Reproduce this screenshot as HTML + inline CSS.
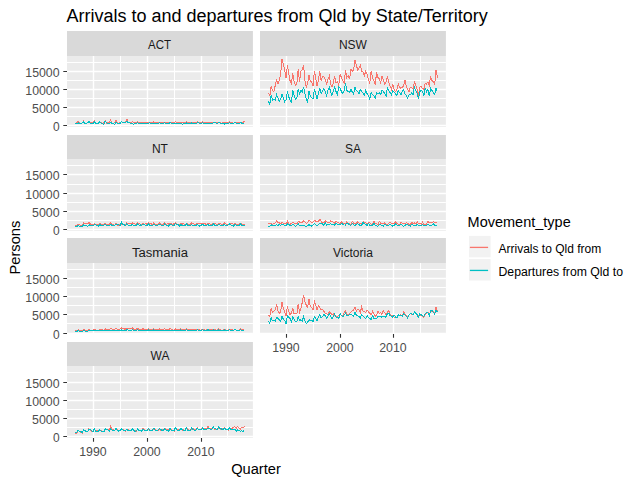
<!DOCTYPE html><html><head><meta charset="utf-8"><style>html,body{margin:0;padding:0;background:#fff;overflow:hidden}svg{display:block}text{font-family:"Liberation Sans",sans-serif}</style></head><body>
<svg width="638" height="484" viewBox="0 0 638 484">
<rect width="638" height="484" fill="#fff"/>
<text x="66.5" y="22" font-size="18" fill="#000">Arrivals to and departures from Qld by State/Territory</text>
<rect x="67.0" y="31" width="185.90" height="25" fill="#D9D9D9"/>
<text x="159.60" y="49.1" font-size="12" fill="#1A1A1A" text-anchor="middle" textLength="23.0" lengthAdjust="spacingAndGlyphs">ACT</text>
<rect x="67.0" y="56" width="185.90" height="71" fill="#EBEBEB"/>
<path d="M67.0 62.5H252.90M67.0 80.5H252.90M67.0 98.5H252.90M67.0 116.5H252.90M120.5 56V127M174.5 56V127M227.5 56V127" stroke="#fff" stroke-width="1.0" fill="none"/>
<path d="M67.0 71.5H252.90M67.0 89.5H252.90M67.0 107.5H252.90M67.0 125.5H252.90M93.5 56V127M147.5 56V127M201.5 56V127" stroke="#fff" stroke-width="1.4" fill="none"/>
<polyline points="75.45,123.37 76.80,122.91 78.15,121.09 79.50,123.37 80.86,123.37 82.21,122.91 83.56,121.09 84.91,122.91 86.26,123.37 87.61,122.45 88.97,121.09 90.32,122.45 91.67,122.45 93.02,122.45 94.37,121.09 95.72,122.91 97.07,123.37 98.43,122.91 99.78,121.55 101.13,122.91 102.48,123.37 103.83,122.91 105.18,120.64 106.53,123.37 107.89,122.91 109.24,122.45 110.59,120.18 111.94,123.37 113.29,123.37 114.64,122.45 116.00,120.64 117.35,122.45 118.70,123.37 120.05,122.45 121.40,121.55 122.75,122.45 124.10,122.45 125.46,122.00 126.81,119.09 128.16,122.00 129.51,122.45 130.86,122.80 132.21,121.77 133.57,122.34 134.92,122.70 136.27,123.10 137.62,121.69 138.97,122.56 140.32,122.47 141.67,123.04 143.03,121.99 144.38,122.19 145.73,122.31 147.08,123.03 148.43,122.17 149.78,122.46 151.14,122.45 152.49,122.71 153.84,121.81 155.19,122.65 156.54,122.47 157.89,122.49 159.24,121.96 160.60,122.74 161.95,122.75 163.30,122.56 164.65,122.23 166.00,122.44 167.35,122.80 168.70,122.74 170.06,121.90 171.41,122.41 172.76,122.25 174.11,122.61 175.46,121.55 176.81,122.43 178.17,122.67 179.52,122.61 180.87,122.44 182.22,122.40 183.57,122.52 184.92,122.96 186.27,121.74 187.63,122.53 188.98,123.11 190.33,122.76 191.68,122.07 193.03,122.55 194.38,122.63 195.74,122.47 197.09,121.86 198.44,122.47 199.79,122.54 201.14,123.16 202.49,121.64 203.84,122.71 205.20,122.56 206.55,123.03 207.90,122.14 209.25,122.59 210.60,122.27 211.95,122.67 213.31,122.09 214.66,122.59 216.01,122.95 217.36,122.85 218.71,122.11 220.06,122.40 221.41,123.02 222.77,122.94 224.12,122.19 225.47,122.74 226.82,122.59 228.17,122.86 229.52,121.90 230.87,122.35 232.23,122.52 233.58,123.21 234.93,121.94 236.28,123.01 237.63,122.81 238.98,122.52 240.34,122.12 241.69,122.73 243.04,122.79 244.39,121.09" stroke="#F8766D" stroke-width="1.0" fill="none" shape-rendering="crispEdges"/>
<polyline points="75.45,123.82 76.80,123.37 78.15,122.91 79.50,123.37 80.86,123.37 82.21,122.91 83.56,122.00 84.91,123.37 86.26,123.37 87.61,122.91 88.97,121.55 90.32,123.37 91.67,123.82 93.02,123.82 94.37,122.00 95.72,123.37 97.07,123.37 98.43,123.37 99.78,121.55 101.13,122.91 102.48,123.82 103.83,124.27 105.18,121.09 106.53,122.91 107.89,123.37 109.24,123.82 110.59,122.45 111.94,123.37 113.29,123.82 114.64,124.27 116.00,122.00 117.35,123.37 118.70,123.82 120.05,123.82 121.40,121.55 122.75,122.45 124.10,122.91 125.46,122.45 126.81,121.09 128.16,122.45 129.51,122.45 130.86,123.91 132.21,123.21 133.57,124.27 134.92,123.30 136.27,123.57 137.62,122.84 138.97,123.65 140.32,123.70 141.67,123.49 143.03,123.35 144.38,123.29 145.73,123.86 147.08,123.56 148.43,123.14 149.78,122.97 151.14,123.26 152.49,123.71 153.84,123.32 155.19,123.54 156.54,123.51 157.89,123.83 159.24,122.86 160.60,123.16 161.95,123.52 163.30,123.71 164.65,122.76 166.00,123.45 167.35,123.33 168.70,123.70 170.06,122.58 171.41,123.46 172.76,123.76 174.11,123.61 175.46,123.08 176.81,123.61 178.17,123.56 179.52,123.48 180.87,123.43 182.22,124.27 183.57,123.58 184.92,123.68 186.27,122.77 187.63,123.69 188.98,123.38 190.33,123.68 191.68,122.91 193.03,123.43 194.38,123.58 195.74,123.73 197.09,122.83 198.44,122.90 199.79,123.26 201.14,123.41 202.49,122.78 203.84,123.46 205.20,123.34 206.55,123.12 207.90,123.16 209.25,123.15 210.60,123.24 211.95,123.50 213.31,122.69 214.66,123.01 216.01,122.95 217.36,123.25 218.71,122.48 220.06,123.22 221.41,123.24 222.77,123.48 224.12,124.27 225.47,123.38 226.82,123.25 228.17,123.19 229.52,122.84 230.87,123.20 232.23,123.25 233.58,123.48 234.93,122.58 236.28,123.18 237.63,123.62 238.98,123.69 240.34,122.61 241.69,123.08 243.04,123.11 244.39,123.39" stroke="#00BFC4" stroke-width="1.0" fill="none" shape-rendering="crispEdges"/>
<text x="59.6" y="76.90" font-size="12" fill="#4D4D4D" text-anchor="end" textLength="34.3" lengthAdjust="spacingAndGlyphs">15000</text>
<text x="59.6" y="94.90" font-size="12" fill="#4D4D4D" text-anchor="end" textLength="34.3" lengthAdjust="spacingAndGlyphs">10000</text>
<text x="59.6" y="112.90" font-size="12" fill="#4D4D4D" text-anchor="end" textLength="27.6" lengthAdjust="spacingAndGlyphs">5000</text>
<text x="59.6" y="130.90" font-size="12" fill="#4D4D4D" text-anchor="end" textLength="6.67" lengthAdjust="spacingAndGlyphs">0</text>
<path d="M63.3 71.5H67M63.3 89.5H67M63.3 107.5H67M63.3 125.5H67" stroke="#333" stroke-width="1.1" fill="none"/>
<rect x="260.0" y="31" width="185.90" height="25" fill="#D9D9D9"/>
<text x="352.95" y="49.1" font-size="12" fill="#1A1A1A" text-anchor="middle">NSW</text>
<rect x="260.0" y="56" width="185.90" height="71" fill="#EBEBEB"/>
<path d="M260.0 62.5H445.90M260.0 80.5H445.90M260.0 98.5H445.90M260.0 116.5H445.90M313.5 56V127M367.5 56V127M420.5 56V127" stroke="#fff" stroke-width="1.0" fill="none"/>
<path d="M260.0 71.5H445.90M260.0 89.5H445.90M260.0 107.5H445.90M260.0 125.5H445.90M286.5 56V127M340.5 56V127M393.5 56V127" stroke="#fff" stroke-width="1.4" fill="none"/>
<polyline points="268.45,92.81 269.80,96.35 271.15,86.15 272.50,90.45 273.86,91.52 275.21,85.61 276.56,79.17 277.91,84.00 279.26,80.78 280.61,74.33 281.97,59.30 283.32,64.67 284.67,70.04 286.02,78.10 287.37,65.20 288.72,73.26 290.07,80.78 291.43,83.46 292.78,73.26 294.13,81.32 295.48,85.61 296.83,83.46 298.18,69.50 299.53,81.85 300.89,71.11 302.24,70.04 303.59,65.20 304.94,80.78 306.29,87.22 307.64,82.93 309.00,74.87 310.35,81.32 311.70,81.85 313.05,86.15 314.40,71.11 315.75,78.63 317.10,86.15 318.46,79.70 319.81,71.11 321.16,80.78 322.51,76.48 323.86,76.48 325.21,79.70 326.57,84.00 327.92,79.70 329.27,75.95 330.62,84.00 331.97,87.22 333.32,82.93 334.67,75.95 336.03,82.93 337.38,81.85 338.73,85.08 340.08,74.33 341.43,77.56 342.78,80.78 344.14,82.93 345.49,70.04 346.84,77.56 348.19,75.41 349.54,79.17 350.89,69.50 352.24,71.11 353.60,70.57 354.95,60.37 356.30,64.67 357.65,70.04 359.00,68.43 360.35,65.20 361.70,71.11 363.06,72.19 364.41,75.41 365.76,71.11 367.11,74.33 368.46,79.70 369.81,82.93 371.17,71.11 372.52,77.56 373.87,80.78 375.22,85.08 376.57,72.19 377.92,77.56 379.27,78.63 380.63,82.93 381.98,76.48 383.33,79.70 384.68,84.00 386.03,81.85 387.38,76.48 388.74,81.85 390.09,86.15 391.44,89.37 392.79,84.00 394.14,89.37 395.49,91.52 396.84,89.37 398.20,84.00 399.55,87.22 400.90,88.30 402.25,87.22 403.60,86.15 404.95,79.70 406.31,86.15 407.66,89.37 409.01,91.52 410.36,87.22 411.71,87.22 413.06,89.37 414.41,82.39 415.77,85.08 417.12,89.37 418.47,95.82 419.82,87.22 421.17,86.68 422.52,88.30 423.87,89.37 425.23,82.93 426.58,84.00 427.93,81.85 429.28,85.08 430.63,76.48 431.98,80.78 433.34,81.32 434.69,84.00 436.04,70.04 437.39,77.56" stroke="#F8766D" stroke-width="1.0" fill="none" shape-rendering="crispEdges"/>
<polyline points="268.45,101.19 269.80,104.41 271.15,94.74 272.50,100.11 273.86,99.58 275.21,100.11 276.56,94.74 277.91,97.96 279.26,101.19 280.61,99.04 281.97,94.21 283.32,97.96 284.67,101.73 286.02,100.11 287.37,91.52 288.72,96.89 290.07,100.11 291.43,102.26 292.78,90.45 294.13,95.82 295.48,99.04 296.83,97.96 298.18,89.37 299.53,93.67 300.89,90.45 302.24,92.06 303.59,87.22 304.94,93.67 306.29,99.04 307.64,102.26 309.00,91.52 310.35,95.82 311.70,97.96 313.05,99.04 314.40,89.37 315.75,93.67 317.10,99.04 318.46,92.59 319.81,88.30 321.16,93.67 322.51,90.45 323.86,88.30 325.21,91.52 326.57,95.82 327.92,90.45 329.27,87.22 330.62,91.52 331.97,95.28 333.32,90.45 334.67,87.22 336.03,91.52 337.38,94.74 338.73,87.22 340.08,88.30 341.43,91.52 342.78,93.67 344.14,90.45 345.49,83.46 346.84,90.45 348.19,91.52 349.54,92.59 350.89,89.37 352.24,92.06 353.60,94.21 354.95,87.22 356.30,90.45 357.65,91.52 359.00,93.67 360.35,89.37 361.70,91.52 363.06,93.13 364.41,95.28 365.76,90.45 367.11,93.67 368.46,95.82 369.81,99.04 371.17,92.59 372.52,94.74 373.87,95.82 375.22,97.96 376.57,92.59 377.92,93.67 379.27,92.59 380.63,94.74 381.98,90.45 383.33,91.52 384.68,93.67 386.03,96.35 387.38,87.76 388.74,90.45 390.09,92.59 391.44,94.74 392.79,90.45 394.14,92.06 395.49,93.67 396.84,95.82 398.20,90.45 399.55,92.59 400.90,94.74 402.25,91.52 403.60,89.37 404.95,93.67 406.31,95.28 407.66,97.96 409.01,94.74 410.36,94.74 411.71,92.59 413.06,94.74 414.41,87.22 415.77,90.45 417.12,93.67 418.47,99.04 419.82,91.52 421.17,90.45 422.52,91.52 423.87,95.82 425.23,88.30 426.58,91.52 427.93,89.37 429.28,95.82 430.63,88.30 431.98,90.45 433.34,92.59 434.69,94.74 436.04,88.30 437.39,91.52" stroke="#00BFC4" stroke-width="1.0" fill="none" shape-rendering="crispEdges"/>
<rect x="67.0" y="135" width="185.90" height="24" fill="#D9D9D9"/>
<text x="159.95" y="153.1" font-size="12" fill="#1A1A1A" text-anchor="middle">NT</text>
<rect x="67.0" y="159" width="185.90" height="72" fill="#EBEBEB"/>
<path d="M67.0 165.5H252.90M67.0 184.5H252.90M67.0 202.5H252.90M67.0 220.5H252.90M120.5 159V231M174.5 159V231M227.5 159V231" stroke="#fff" stroke-width="1.0" fill="none"/>
<path d="M67.0 174.5H252.90M67.0 193.5H252.90M67.0 211.5H252.90M67.0 229.5H252.90M93.5 159V231M147.5 159V231M201.5 159V231" stroke="#fff" stroke-width="1.4" fill="none"/>
<polyline points="75.45,225.29 76.80,225.14 78.15,224.39 79.50,224.72 80.86,225.41 82.21,225.64 83.56,222.64 84.91,223.36 86.26,223.84 87.61,223.96 88.97,222.51 90.32,224.00 91.67,224.22 93.02,224.96 94.37,223.30 95.72,224.28 97.07,224.85 98.43,225.14 99.78,223.71 101.13,224.22 102.48,224.47 103.83,224.75 105.18,223.15 106.53,224.58 107.89,224.44 109.24,224.60 110.59,223.00 111.94,224.53 113.29,224.69 114.64,225.49 116.00,223.57 117.35,225.13 118.70,225.18 120.05,224.62 121.40,224.28 122.75,224.29 124.10,224.76 125.46,224.90 126.81,222.89 128.16,223.53 129.51,223.34 130.86,224.01 132.21,222.69 133.57,223.68 134.92,224.10 136.27,224.04 137.62,222.84 138.97,223.22 140.32,224.48 141.67,224.48 143.03,222.99 144.38,224.35 145.73,223.33 147.08,225.00 148.43,222.86 149.78,223.92 151.14,223.50 152.49,224.95 153.84,222.50 155.19,224.08 156.54,224.19 157.89,224.58 159.24,222.69 160.60,224.24 161.95,224.16 163.30,224.25 164.65,222.30 166.00,224.65 167.35,223.63 168.70,224.05 170.06,223.06 171.41,223.76 172.76,224.29 174.11,223.82 175.46,222.83 176.81,223.93 178.17,224.21 179.52,224.43 180.87,222.96 182.22,224.15 183.57,223.46 184.92,224.99 186.27,224.09 187.63,223.90 188.98,224.19 190.33,224.24 191.68,222.97 193.03,223.92 194.38,224.03 195.74,224.05 197.09,223.06 198.44,224.00 199.79,223.51 201.14,224.21 202.49,223.25 203.84,223.12 205.20,223.91 206.55,224.59 207.90,223.32 209.25,223.79 210.60,224.45 211.95,224.75 213.31,223.37 214.66,224.07 216.01,223.82 217.36,224.56 218.71,223.43 220.06,223.69 221.41,224.17 222.77,224.14 224.12,222.56 225.47,223.98 226.82,224.24 228.17,224.45 229.52,223.34 230.87,223.71 232.23,223.75 233.58,224.38 234.93,223.06 236.28,224.03 237.63,224.48 238.98,224.71 240.34,223.12 241.69,224.23 243.04,224.37 244.39,224.98" stroke="#F8766D" stroke-width="1.0" fill="none" shape-rendering="crispEdges"/>
<polyline points="75.45,226.68 76.80,226.78 78.15,225.56 79.50,226.29 80.86,226.39 82.21,226.80 83.56,224.44 84.91,225.80 86.26,225.77 87.61,226.26 88.97,224.76 90.32,225.56 91.67,225.71 93.02,225.89 94.37,224.34 95.72,224.77 97.07,225.50 98.43,226.50 99.78,224.34 101.13,225.56 102.48,225.76 103.83,225.35 105.18,224.27 106.53,225.79 107.89,225.28 109.24,225.67 110.59,224.42 111.94,225.32 113.29,225.48 114.64,225.51 116.00,224.10 117.35,224.92 118.70,224.60 120.05,225.69 121.40,222.27 122.75,224.95 124.10,224.81 125.46,225.66 126.81,223.45 128.16,225.37 129.51,225.58 130.86,225.52 132.21,224.28 133.57,225.22 134.92,225.17 136.27,225.33 137.62,224.02 138.97,225.15 140.32,224.91 141.67,225.46 143.03,224.15 144.38,224.68 145.73,225.66 147.08,225.55 148.43,223.88 149.78,225.10 151.14,225.57 152.49,225.51 153.84,224.29 155.19,225.31 156.54,225.74 157.89,225.21 159.24,224.31 160.60,224.75 161.95,225.29 163.30,225.75 164.65,223.93 166.00,225.06 167.35,225.39 168.70,226.13 170.06,224.14 171.41,224.87 172.76,225.29 174.11,225.37 175.46,223.69 176.81,225.05 178.17,224.82 179.52,226.21 180.87,224.28 182.22,226.03 183.57,225.22 184.92,225.70 186.27,223.66 187.63,225.34 188.98,226.18 190.33,225.33 191.68,224.67 193.03,225.65 194.38,225.58 195.74,225.55 197.09,224.41 198.44,225.18 199.79,226.15 201.14,225.20 202.49,224.27 203.84,225.21 205.20,225.35 206.55,225.72 207.90,224.19 209.25,225.56 210.60,225.59 211.95,225.65 213.31,223.93 214.66,225.31 216.01,225.53 217.36,225.69 218.71,224.09 220.06,225.21 221.41,225.65 222.77,225.97 224.12,223.92 225.47,225.19 226.82,225.57 228.17,224.67 229.52,224.01 230.87,225.02 232.23,225.54 233.58,226.16 234.93,223.93 236.28,225.33 237.63,225.58 238.98,225.50 240.34,223.98 241.69,225.24 243.04,225.60 244.39,225.15" stroke="#00BFC4" stroke-width="1.0" fill="none" shape-rendering="crispEdges"/>
<text x="59.6" y="179.90" font-size="12" fill="#4D4D4D" text-anchor="end" textLength="34.3" lengthAdjust="spacingAndGlyphs">15000</text>
<text x="59.6" y="198.90" font-size="12" fill="#4D4D4D" text-anchor="end" textLength="34.3" lengthAdjust="spacingAndGlyphs">10000</text>
<text x="59.6" y="216.90" font-size="12" fill="#4D4D4D" text-anchor="end" textLength="27.6" lengthAdjust="spacingAndGlyphs">5000</text>
<text x="59.6" y="234.90" font-size="12" fill="#4D4D4D" text-anchor="end" textLength="6.67" lengthAdjust="spacingAndGlyphs">0</text>
<path d="M63.3 174.5H67M63.3 193.5H67M63.3 211.5H67M63.3 229.5H67" stroke="#333" stroke-width="1.1" fill="none"/>
<rect x="260.0" y="135" width="185.90" height="24" fill="#D9D9D9"/>
<text x="352.95" y="153.1" font-size="12" fill="#1A1A1A" text-anchor="middle">SA</text>
<rect x="260.0" y="159" width="185.90" height="72" fill="#EBEBEB"/>
<path d="M260.0 165.5H445.90M260.0 184.5H445.90M260.0 202.5H445.90M260.0 220.5H445.90M313.5 159V231M367.5 159V231M420.5 159V231" stroke="#fff" stroke-width="1.0" fill="none"/>
<path d="M260.0 174.5H445.90M260.0 193.5H445.90M260.0 211.5H445.90M260.0 229.5H445.90M286.5 159V231M340.5 159V231M393.5 159V231" stroke="#fff" stroke-width="1.4" fill="none"/>
<polyline points="268.45,223.82 269.80,223.82 271.15,223.36 272.50,224.27 273.86,223.82 275.21,222.91 276.56,221.09 277.91,222.46 279.26,222.91 280.61,223.82 281.97,222.46 283.32,223.36 284.67,223.82 286.02,223.36 287.37,221.09 288.72,223.82 290.07,224.27 291.43,223.36 292.78,222.00 294.13,223.36 295.48,223.82 296.83,223.82 298.18,221.55 299.53,222.00 300.89,222.00 302.24,222.46 303.59,220.64 304.94,222.00 306.29,223.36 307.64,222.46 309.00,220.18 310.35,221.55 311.70,222.46 313.05,222.00 314.40,220.18 315.75,221.09 317.10,221.55 318.46,221.09 319.81,219.27 321.16,221.55 322.51,222.91 323.86,222.63 325.21,220.63 326.57,221.73 327.92,222.32 329.27,222.71 330.62,221.06 331.97,221.81 333.32,222.21 334.67,223.23 336.03,221.48 337.38,222.45 338.73,223.04 340.08,224.07 341.43,221.89 342.78,222.73 344.14,223.59 345.49,224.01 346.84,221.75 348.19,223.21 349.54,223.59 350.89,224.69 352.24,221.17 353.60,223.15 354.95,223.97 356.30,223.56 357.65,221.79 359.00,223.26 360.35,223.24 361.70,223.08 363.06,221.72 364.41,222.66 365.76,222.83 367.11,224.43 368.46,222.19 369.81,223.02 371.17,224.42 372.52,224.17 373.87,221.50 375.22,222.95 376.57,223.53 377.92,224.86 379.27,221.11 380.63,223.19 381.98,223.49 383.33,223.93 384.68,222.77 386.03,224.00 387.38,224.30 388.74,223.36 390.09,222.42 391.44,223.52 392.79,223.92 394.14,223.90 395.49,221.88 396.84,223.32 398.20,224.32 399.55,225.39 400.90,222.02 402.25,223.32 403.60,223.32 404.95,224.17 406.31,222.33 407.66,223.26 409.01,224.43 410.36,224.55 411.71,222.49 413.06,223.31 414.41,222.97 415.77,223.82 417.12,221.62 418.47,223.29 419.82,223.62 421.17,224.19 422.52,222.03 423.87,224.19 425.23,224.04 426.58,224.35 427.93,221.41 429.28,222.78 430.63,222.93 431.98,223.04 433.34,221.70 434.69,222.45 436.04,222.43 437.39,223.50" stroke="#F8766D" stroke-width="1.0" fill="none" shape-rendering="crispEdges"/>
<polyline points="268.45,226.09 269.80,226.55 271.15,224.73 272.50,225.64 273.86,225.18 275.21,226.09 276.56,224.73 277.91,225.18 279.26,224.73 280.61,225.64 281.97,224.27 283.32,224.73 284.67,225.64 286.02,225.64 287.37,223.82 288.72,224.73 290.07,225.18 291.43,225.64 292.78,224.27 294.13,225.18 295.48,226.09 296.83,225.64 298.18,223.36 299.53,225.64 300.89,225.64 302.24,225.64 303.59,225.64 304.94,226.09 306.29,226.55 307.64,225.64 309.00,224.73 310.35,225.64 311.70,226.09 313.05,225.18 314.40,223.82 315.75,224.73 317.10,225.64 318.46,224.73 319.81,223.36 321.16,223.82 322.51,223.82 323.86,225.44 325.21,222.83 326.57,225.28 327.92,224.34 329.27,224.90 330.62,223.47 331.97,224.56 333.32,224.85 334.67,225.09 336.03,222.93 337.38,224.72 338.73,224.36 340.08,224.68 341.43,223.39 342.78,224.23 344.14,224.99 345.49,225.06 346.84,223.15 348.19,223.79 349.54,224.86 350.89,225.19 352.24,223.39 353.60,224.64 354.95,225.32 356.30,224.53 357.65,223.71 359.00,224.88 360.35,225.27 361.70,225.06 363.06,222.49 364.41,223.64 365.76,224.74 367.11,225.27 368.46,223.67 369.81,225.21 371.17,224.92 372.52,225.52 373.87,222.99 375.22,225.02 376.57,225.65 377.92,226.25 379.27,224.49 380.63,224.79 381.98,225.24 383.33,226.08 384.68,224.48 386.03,224.98 387.38,225.55 388.74,225.62 390.09,223.97 391.44,225.41 392.79,226.10 394.14,225.70 395.49,223.97 396.84,225.10 398.20,225.16 399.55,225.45 400.90,224.23 402.25,224.99 403.60,226.35 404.95,225.58 406.31,224.10 407.66,224.88 409.01,225.22 410.36,226.22 411.71,224.18 413.06,224.88 414.41,225.84 415.77,225.89 417.12,224.40 418.47,225.07 419.82,225.47 421.17,226.12 422.52,224.56 423.87,225.96 425.23,225.12 426.58,225.84 427.93,224.14 429.28,225.20 430.63,225.63 431.98,225.28 433.34,223.51 434.69,225.68 436.04,225.16 437.39,225.35" stroke="#00BFC4" stroke-width="1.0" fill="none" shape-rendering="crispEdges"/>
<rect x="67.0" y="238" width="185.90" height="25" fill="#D9D9D9"/>
<text x="159.95" y="257.0" font-size="12" fill="#1A1A1A" text-anchor="middle" textLength="55.9" lengthAdjust="spacingAndGlyphs">Tasmania</text>
<rect x="67.0" y="263" width="185.90" height="71" fill="#EBEBEB"/>
<path d="M67.0 269.5H252.90M67.0 287.5H252.90M67.0 305.5H252.90M67.0 323.5H252.90M120.5 263V334M174.5 263V334M227.5 263V334" stroke="#fff" stroke-width="1.0" fill="none"/>
<path d="M67.0 278.5H252.90M67.0 296.5H252.90M67.0 314.5H252.90M67.0 333.5H252.90M93.5 263V334M147.5 263V334M201.5 263V334" stroke="#fff" stroke-width="1.4" fill="none"/>
<polyline points="75.45,330.67 76.80,330.66 78.15,329.71 79.50,330.39 80.86,330.67 82.21,330.68 83.56,329.35 84.91,330.14 86.26,330.19 87.61,330.48 88.97,329.36 90.32,330.07 91.67,330.57 93.02,330.25 94.37,329.22 95.72,329.89 97.07,330.46 98.43,330.60 99.78,329.36 101.13,329.95 102.48,329.97 103.83,330.11 105.18,328.87 106.53,329.68 107.89,329.61 109.24,329.67 110.59,328.72 111.94,328.89 113.29,329.21 114.64,329.17 116.00,328.35 117.35,329.02 118.70,329.10 120.05,329.18 121.40,327.95 122.75,328.67 124.10,328.94 125.46,329.16 126.81,327.98 128.16,328.31 129.51,328.83 130.86,328.89 132.21,327.89 133.57,329.03 134.92,329.03 136.27,329.06 137.62,328.71 138.97,329.19 140.32,329.45 141.67,329.84 143.03,328.65 144.38,329.45 145.73,329.91 147.08,329.66 148.43,328.65 149.78,329.29 151.14,329.41 152.49,329.77 153.84,328.77 155.19,329.73 156.54,329.58 157.89,329.98 159.24,328.90 160.60,329.75 161.95,329.90 163.30,329.99 164.65,328.61 166.00,329.92 167.35,330.01 168.70,329.88 170.06,328.61 171.41,329.46 172.76,330.12 174.11,330.41 175.46,328.83 176.81,329.73 178.17,330.00 179.52,329.79 180.87,328.72 182.22,329.59 183.57,329.78 184.92,329.92 186.27,328.66 187.63,329.54 188.98,329.76 190.33,329.92 191.68,329.26 193.03,329.44 194.38,329.70 195.74,329.95 197.09,329.36 198.44,329.82 199.79,329.76 201.14,330.41 202.49,329.07 203.84,329.55 205.20,330.19 206.55,329.82 207.90,328.97 209.25,329.80 210.60,329.92 211.95,330.04 213.31,329.09 214.66,329.60 216.01,330.14 217.36,330.27 218.71,328.96 220.06,329.84 221.41,330.22 222.77,330.05 224.12,328.92 225.47,329.95 226.82,330.30 228.17,330.23 229.52,329.16 230.87,329.87 232.23,329.74 233.58,330.34 234.93,328.86 236.28,330.00 237.63,330.10 238.98,329.99 240.34,328.83 241.69,329.56 243.04,329.84 244.39,330.03" stroke="#F8766D" stroke-width="1.0" fill="none" shape-rendering="crispEdges"/>
<polyline points="75.45,331.49 76.80,331.23 78.15,330.75 79.50,331.12 80.86,331.26 82.21,331.36 83.56,330.62 84.91,331.10 86.26,331.28 87.61,331.35 88.97,330.70 90.32,330.89 91.67,330.94 93.02,330.85 94.37,330.35 95.72,330.78 97.07,330.82 98.43,331.00 99.78,330.61 101.13,330.57 102.48,330.89 103.83,330.87 105.18,330.28 106.53,330.21 107.89,330.57 109.24,330.76 110.59,330.33 111.94,330.43 113.29,330.80 114.64,330.57 116.00,330.31 117.35,330.50 118.70,330.45 120.05,330.79 121.40,329.99 122.75,330.38 124.10,330.36 125.46,330.66 126.81,329.82 128.16,330.01 129.51,330.65 130.86,330.66 132.21,329.82 133.57,330.43 134.92,330.66 136.27,330.35 137.62,329.78 138.97,330.19 140.32,330.32 141.67,330.49 143.03,330.08 144.38,330.75 145.73,330.44 147.08,330.79 148.43,329.99 149.78,330.37 151.14,330.74 152.49,330.71 153.84,329.76 155.19,330.34 156.54,330.83 157.89,330.71 159.24,330.03 160.60,330.35 161.95,330.44 163.30,330.65 164.65,330.03 166.00,330.27 167.35,330.74 168.70,330.44 170.06,329.91 171.41,330.45 172.76,330.57 174.11,330.54 175.46,330.15 176.81,330.69 178.17,330.40 179.52,330.32 180.87,329.92 182.22,330.30 183.57,330.42 184.92,330.66 186.27,329.80 187.63,330.15 188.98,330.38 190.33,330.34 191.68,329.99 193.03,330.20 194.38,330.47 195.74,330.52 197.09,329.76 198.44,330.20 199.79,330.22 201.14,330.35 202.49,329.99 203.84,330.04 205.20,330.60 206.55,330.48 207.90,329.78 209.25,330.27 210.60,330.31 211.95,330.48 213.31,329.99 214.66,330.15 216.01,330.41 217.36,330.64 218.71,329.85 220.06,330.29 221.41,330.36 222.77,330.61 224.12,329.85 225.47,330.31 226.82,330.15 228.17,330.53 229.52,329.62 230.87,330.23 232.23,330.15 233.58,330.05 234.93,329.80 236.28,330.13 237.63,330.39 238.98,330.44 240.34,329.76 241.69,330.07 243.04,330.04 244.39,330.13" stroke="#00BFC4" stroke-width="1.0" fill="none" shape-rendering="crispEdges"/>
<text x="59.6" y="283.90" font-size="12" fill="#4D4D4D" text-anchor="end" textLength="34.3" lengthAdjust="spacingAndGlyphs">15000</text>
<text x="59.6" y="301.90" font-size="12" fill="#4D4D4D" text-anchor="end" textLength="34.3" lengthAdjust="spacingAndGlyphs">10000</text>
<text x="59.6" y="319.90" font-size="12" fill="#4D4D4D" text-anchor="end" textLength="27.6" lengthAdjust="spacingAndGlyphs">5000</text>
<text x="59.6" y="338.90" font-size="12" fill="#4D4D4D" text-anchor="end" textLength="6.67" lengthAdjust="spacingAndGlyphs">0</text>
<path d="M63.3 278.5H67M63.3 296.5H67M63.3 314.5H67M63.3 333.5H67" stroke="#333" stroke-width="1.1" fill="none"/>
<rect x="260.0" y="238" width="185.90" height="25" fill="#D9D9D9"/>
<text x="352.95" y="257.0" font-size="12" fill="#1A1A1A" text-anchor="middle">Victoria</text>
<rect x="260.0" y="263" width="185.90" height="71" fill="#EBEBEB"/>
<path d="M260.0 269.5H445.90M260.0 287.5H445.90M260.0 305.5H445.90M260.0 323.5H445.90M313.5 263V334M367.5 263V334M420.5 263V334" stroke="#fff" stroke-width="1.0" fill="none"/>
<path d="M260.0 278.5H445.90M260.0 296.5H445.90M260.0 314.5H445.90M260.0 333.5H445.90M286.5 263V334M340.5 263V334M393.5 263V334" stroke="#fff" stroke-width="1.4" fill="none"/>
<polyline points="268.45,314.79 269.80,316.45 271.15,308.18 272.50,312.73 273.86,311.49 275.21,309.83 276.56,304.46 277.91,310.66 279.26,313.14 280.61,311.90 281.97,302.40 283.32,308.18 284.67,312.31 286.02,315.62 287.37,306.53 288.72,311.49 290.07,314.79 291.43,313.14 292.78,308.18 294.13,313.97 295.48,313.97 296.83,313.97 298.18,304.46 299.53,312.31 300.89,309.01 302.24,302.40 303.59,295.37 304.94,301.57 306.29,305.29 307.64,307.36 309.00,299.50 310.35,306.53 311.70,307.77 313.05,309.42 314.40,301.57 315.75,305.29 317.10,309.83 318.46,305.70 319.81,307.36 321.16,309.83 322.51,309.42 323.86,311.49 325.21,313.14 326.57,313.97 327.92,314.38 329.27,311.49 330.62,313.14 331.97,314.79 333.32,313.97 334.67,315.21 336.03,316.03 337.38,316.45 338.73,315.62 340.08,314.79 341.43,315.21 342.78,315.21 344.14,313.14 345.49,310.66 346.84,313.97 348.19,314.79 349.54,313.55 350.89,311.90 352.24,311.07 353.60,309.83 354.95,307.36 356.30,311.07 357.65,309.42 359.00,309.83 360.35,312.31 361.70,306.53 363.06,311.07 364.41,311.90 365.76,312.31 367.11,309.83 368.46,311.90 369.81,313.55 371.17,314.79 372.52,311.49 373.87,313.97 375.22,316.45 376.57,314.79 377.92,311.49 379.27,313.55 380.63,312.73 381.98,314.38 383.33,310.66 384.68,312.73 386.03,314.79 387.38,312.73 388.74,310.25 390.09,314.38 391.44,315.21 392.79,315.21 394.14,317.27 395.49,316.86 396.84,317.27 398.20,315.62 399.55,315.62 400.90,314.79 402.25,316.03 403.60,311.90 404.95,313.97 406.31,315.62 407.66,317.27 409.01,314.79 410.36,313.55 411.71,314.38 413.06,314.79 414.41,312.31 415.77,313.14 417.12,313.97 418.47,316.03 419.82,314.38 421.17,315.62 422.52,316.45 423.87,317.27 425.23,313.97 426.58,313.14 427.93,312.31 429.28,315.21 430.63,311.07 431.98,311.07 433.34,311.90 434.69,313.14 436.04,307.36 437.39,310.66" stroke="#F8766D" stroke-width="1.0" fill="none" shape-rendering="crispEdges"/>
<polyline points="268.45,320.99 269.80,323.06 271.15,317.27 272.50,320.99 273.86,320.58 275.21,320.99 276.56,317.27 277.91,318.51 279.26,319.75 280.61,320.99 281.97,316.45 283.32,318.93 284.67,320.58 286.02,323.47 287.37,315.62 288.72,317.27 290.07,318.51 291.43,321.82 292.78,317.27 294.13,319.34 295.48,321.41 296.83,321.41 298.18,316.45 299.53,320.58 300.89,319.75 302.24,321.41 303.59,316.45 304.94,320.99 306.29,323.89 307.64,322.23 309.00,319.75 310.35,320.58 311.70,320.17 313.05,322.23 314.40,316.86 315.75,318.51 317.10,320.58 318.46,317.27 319.81,314.79 321.16,318.10 322.51,316.45 323.86,314.38 325.21,315.62 326.57,318.51 327.92,316.45 329.27,313.97 330.62,316.45 331.97,318.51 333.32,316.45 334.67,313.97 336.03,317.27 337.38,317.69 338.73,318.51 340.08,313.55 341.43,315.62 342.78,316.86 344.14,314.79 345.49,313.14 346.84,315.21 348.19,316.03 349.54,314.79 350.89,313.97 352.24,315.21 353.60,316.45 354.95,312.31 356.30,315.21 357.65,315.62 359.00,316.45 360.35,317.69 361.70,314.79 363.06,316.03 364.41,317.69 365.76,318.51 367.11,315.62 368.46,317.27 369.81,318.51 371.17,319.34 372.52,315.62 373.87,318.10 375.22,318.51 376.57,318.51 377.92,316.03 379.27,316.45 380.63,316.45 381.98,317.27 383.33,316.03 384.68,316.45 386.03,317.27 387.38,313.55 388.74,313.14 390.09,315.62 391.44,316.03 392.79,317.27 394.14,315.21 395.49,316.86 396.84,318.10 398.20,314.79 399.55,315.62 400.90,315.21 402.25,316.45 403.60,313.55 404.95,314.79 406.31,316.45 407.66,318.10 409.01,314.79 410.36,313.97 411.71,313.55 413.06,314.79 414.41,311.90 415.77,313.14 417.12,314.79 418.47,317.27 419.82,313.97 421.17,314.79 422.52,315.62 423.87,316.45 425.23,313.55 426.58,312.73 427.93,312.73 429.28,316.03 430.63,310.66 431.98,309.83 433.34,312.31 434.69,313.97 436.04,309.83 437.39,312.31" stroke="#00BFC4" stroke-width="1.0" fill="none" shape-rendering="crispEdges"/>
<text x="285.90" y="352.10" font-size="12" fill="#4D4D4D" text-anchor="middle" textLength="27.4" lengthAdjust="spacingAndGlyphs">1990</text>
<text x="339.90" y="352.10" font-size="12" fill="#4D4D4D" text-anchor="middle" textLength="27.4" lengthAdjust="spacingAndGlyphs">2000</text>
<text x="392.90" y="352.10" font-size="12" fill="#4D4D4D" text-anchor="middle" textLength="27.4" lengthAdjust="spacingAndGlyphs">2010</text>
<path d="M286.5 334V337.70M340.5 334V337.70M393.5 334V337.70" stroke="#333" stroke-width="1.1" fill="none"/>
<rect x="67.0" y="342" width="185.90" height="24" fill="#D9D9D9"/>
<text x="159.95" y="360.1" font-size="12" fill="#1A1A1A" text-anchor="middle">WA</text>
<rect x="67.0" y="366" width="185.90" height="72" fill="#EBEBEB"/>
<path d="M67.0 372.5H252.90M67.0 391.5H252.90M67.0 409.5H252.90M67.0 427.5H252.90M120.5 366V438M174.5 366V438M227.5 366V438" stroke="#fff" stroke-width="1.0" fill="none"/>
<path d="M67.0 382.5H252.90M67.0 400.5H252.90M67.0 418.5H252.90M67.0 436.5H252.90M93.5 366V438M147.5 366V438M201.5 366V438" stroke="#fff" stroke-width="1.4" fill="none"/>
<polyline points="75.45,433.14 76.80,433.02 78.15,430.36 79.50,431.72 80.86,432.28 82.21,433.09 83.56,429.84 84.91,430.62 86.26,431.47 87.61,431.48 88.97,428.64 90.32,430.43 91.67,431.07 93.02,431.71 94.37,429.10 95.72,430.76 97.07,430.93 98.43,431.09 99.78,429.98 101.13,430.56 102.48,431.53 103.83,431.43 105.18,429.11 106.53,429.40 107.89,429.76 109.24,429.95 110.59,426.36 111.94,429.85 113.29,429.97 114.64,430.21 116.00,428.21 117.35,429.49 118.70,430.45 120.05,430.05 121.40,428.41 122.75,429.45 124.10,430.57 125.46,431.11 126.81,429.13 128.16,429.93 129.51,430.25 130.86,430.95 132.21,428.63 133.57,430.32 134.92,430.77 136.27,431.03 137.62,429.40 138.97,430.48 140.32,430.44 141.67,430.72 143.03,428.07 144.38,429.68 145.73,430.14 147.08,430.61 148.43,429.27 149.78,429.77 151.14,430.53 152.49,430.29 153.84,428.34 155.19,429.79 156.54,430.25 157.89,430.50 159.24,428.94 160.60,430.25 161.95,429.55 163.30,430.21 164.65,428.33 166.00,429.76 167.35,430.18 168.70,429.08 170.06,427.95 171.41,429.62 172.76,430.30 174.11,431.33 175.46,428.11 176.81,429.06 178.17,429.66 179.52,430.28 180.87,428.40 182.22,430.09 183.57,430.00 184.92,430.55 186.27,428.62 187.63,428.96 188.98,430.41 190.33,430.53 191.68,428.97 193.03,428.71 194.38,429.80 195.74,430.05 197.09,427.60 198.44,429.44 199.79,429.69 201.14,429.60 202.49,427.75 203.84,428.68 205.20,428.66 206.55,429.12 207.90,426.56 209.25,428.08 210.60,428.16 211.95,429.13 213.31,426.90 214.66,429.02 216.01,429.12 217.36,429.73 218.71,427.30 220.06,429.19 221.41,429.11 222.77,428.60 224.12,427.77 225.47,428.74 226.82,429.19 228.17,430.13 229.52,427.77 230.87,429.38 232.23,428.18 233.58,427.27 234.93,426.82 236.28,428.18 237.63,426.36 238.98,427.73 240.34,429.09 241.69,427.27 243.04,428.18 244.39,426.36" stroke="#F8766D" stroke-width="1.0" fill="none" shape-rendering="crispEdges"/>
<polyline points="75.45,432.24 76.80,432.39 78.15,430.22 79.50,431.56 80.86,431.56 82.21,432.89 83.56,429.66 84.91,430.72 86.26,431.32 87.61,431.38 88.97,429.13 90.32,429.61 91.67,430.93 93.02,431.42 94.37,428.86 95.72,431.11 97.07,431.37 98.43,431.28 99.78,429.50 101.13,431.18 102.48,431.45 103.83,431.99 105.18,428.64 106.53,429.92 107.89,429.68 109.24,431.07 110.59,428.70 111.94,430.16 113.29,430.29 114.64,430.86 116.00,428.34 117.35,430.25 118.70,431.13 120.05,430.27 121.40,428.90 122.75,429.71 124.10,430.74 125.46,430.90 126.81,429.42 128.16,430.61 129.51,430.48 130.86,430.77 132.21,428.89 133.57,430.17 134.92,431.37 136.27,430.94 137.62,428.98 138.97,430.56 140.32,430.41 141.67,431.05 143.03,428.98 144.38,430.23 145.73,430.62 147.08,430.91 148.43,428.52 149.78,430.17 151.14,430.02 152.49,430.08 153.84,428.06 155.19,430.05 156.54,430.56 157.89,430.50 159.24,428.52 160.60,429.34 161.95,430.22 163.30,430.47 164.65,428.66 166.00,429.82 167.35,430.75 168.70,431.25 170.06,428.35 171.41,430.34 172.76,430.55 174.11,430.30 175.46,427.79 176.81,429.87 178.17,430.48 179.52,430.35 180.87,428.04 182.22,429.68 183.57,430.65 184.92,430.85 186.27,428.02 187.63,430.33 188.98,430.28 190.33,430.09 191.68,427.87 193.03,429.92 194.38,430.13 195.74,430.37 197.09,428.43 198.44,429.34 199.79,430.06 201.14,429.74 202.49,428.12 203.84,429.33 205.20,429.66 206.55,429.68 207.90,428.38 209.25,428.40 210.60,429.21 211.95,429.45 213.31,426.81 214.66,428.79 216.01,429.08 217.36,429.57 218.71,427.09 220.06,428.64 221.41,428.90 222.77,429.76 224.12,427.97 225.47,428.93 226.82,429.92 228.17,429.87 229.52,427.80 230.87,430.01 232.23,429.09 233.58,429.09 234.93,429.09 236.28,431.37 237.63,429.54 238.98,430.45 240.34,431.37 241.69,430.91 243.04,431.82 244.39,429.54" stroke="#00BFC4" stroke-width="1.0" fill="none" shape-rendering="crispEdges"/>
<text x="59.6" y="387.90" font-size="12" fill="#4D4D4D" text-anchor="end" textLength="34.3" lengthAdjust="spacingAndGlyphs">15000</text>
<text x="59.6" y="405.90" font-size="12" fill="#4D4D4D" text-anchor="end" textLength="34.3" lengthAdjust="spacingAndGlyphs">10000</text>
<text x="59.6" y="423.90" font-size="12" fill="#4D4D4D" text-anchor="end" textLength="27.6" lengthAdjust="spacingAndGlyphs">5000</text>
<text x="59.6" y="441.90" font-size="12" fill="#4D4D4D" text-anchor="end" textLength="6.67" lengthAdjust="spacingAndGlyphs">0</text>
<path d="M63.3 382.5H67M63.3 400.5H67M63.3 418.5H67M63.3 436.5H67" stroke="#333" stroke-width="1.1" fill="none"/>
<text x="92.90" y="456.10" font-size="12" fill="#4D4D4D" text-anchor="middle" textLength="27.4" lengthAdjust="spacingAndGlyphs">1990</text>
<text x="146.90" y="456.10" font-size="12" fill="#4D4D4D" text-anchor="middle" textLength="27.4" lengthAdjust="spacingAndGlyphs">2000</text>
<text x="200.90" y="456.10" font-size="12" fill="#4D4D4D" text-anchor="middle" textLength="27.4" lengthAdjust="spacingAndGlyphs">2010</text>
<path d="M93.5 438V441.70M147.5 438V441.70M201.5 438V441.70" stroke="#333" stroke-width="1.1" fill="none"/>
<text x="256" y="473.7" font-size="14.67" fill="#000" text-anchor="middle">Quarter</text>
<text transform="translate(20,247.6) rotate(-90)" font-size="14.67" fill="#000" text-anchor="middle">Persons</text>
<text x="467.6" y="227.1" font-size="14.67" fill="#000" textLength="103.1" lengthAdjust="spacingAndGlyphs">Movement_type</text>
<rect x="468.3" y="235.20" width="23.04" height="23.04" fill="#F2F2F2" stroke="#fff" stroke-width="1.42"/>
<path d="M469.9 247.40H488.1" stroke="#F8766D" stroke-width="1.3"/>
<text x="498.5" y="252.70" font-size="12" fill="#000">Arrivals to Qld from</text>
<rect x="468.3" y="258.24" width="23.04" height="23.04" fill="#F2F2F2" stroke="#fff" stroke-width="1.42"/>
<path d="M469.9 270.44H488.1" stroke="#00BFC4" stroke-width="1.3"/>
<text x="498.5" y="275.74" font-size="12" fill="#000" textLength="124.5" lengthAdjust="spacingAndGlyphs">Departures from Qld to</text>
</svg></body></html>
